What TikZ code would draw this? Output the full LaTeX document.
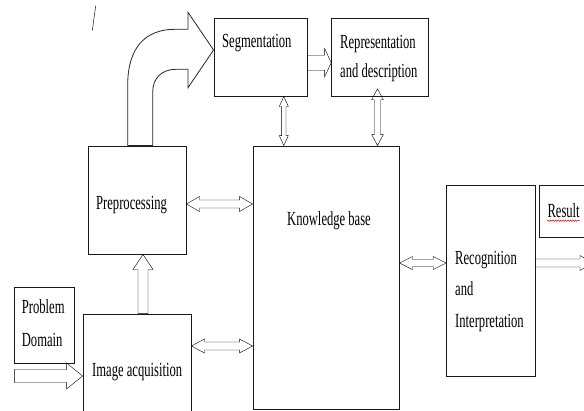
\documentclass[tikz,border=0pt]{standalone}
\usepackage{fontspec}
\setmainfont{Liberation Serif}[FakeStretch=0.63]
\usepackage{tikz}
\usetikzlibrary{calc, decorations.pathmorphing}
\tikzset{
  box/.style={draw=black!90, line width=0.9pt, inner sep=0pt},
  txt/.style={inner sep=0pt, anchor=base west, align=left, font=\fontsize{20}{#1}\selectfont},
  txt/.default=24,
  arr/.style={draw=black!85, line width=0.8pt},
  % hollow arrow: shaft half width, head half width, head length
  sglarr/.style n args={3}{arr, to path={let \p1=($(\tikztotarget)!#3!(\tikztostart)$) in
      ($(\tikztostart)!#1!90:(\tikztotarget)$) -- ($(\p1)!#1!90:(\tikztotarget)$) -- ($(\p1)!#2!90:(\tikztotarget)$)
      -- (\tikztotarget) -- ($(\p1)!#2!-90:(\tikztotarget)$) -- ($(\p1)!#1!-90:(\tikztotarget)$)
      -- ($(\tikztostart)!#1!-90:(\tikztotarget)$) -- cycle}},
  dblarr/.style n args={3}{arr, to path={let \p1=($(\tikztotarget)!#3!(\tikztostart)$),
      \p2=($(\tikztostart)!#3!(\tikztotarget)$) in
      (\tikztostart) -- ($(\p2)!#2!90:(\tikztotarget)$) -- ($(\p2)!#1!90:(\tikztotarget)$)
      -- ($(\p1)!#1!90:(\tikztotarget)$) -- ($(\p1)!#2!90:(\tikztotarget)$) -- (\tikztotarget)
      -- ($(\p1)!#2!-90:(\tikztotarget)$) -- ($(\p1)!#1!-90:(\tikztotarget)$)
      -- ($(\p2)!#1!-90:(\tikztotarget)$) -- ($(\p2)!#2!-90:(\tikztotarget)$) -- cycle}}
}

\begin{document}
\begin{tikzpicture}[x=1pt, y=-1pt]
        \useasboundingbox (0,0) rectangle (584,410);

        % Boxes
        \node[box, minimum width=93, minimum height=78] (seg) at (260.5,57) {};
        \node[box, minimum width=97, minimum height=78] (rep) at (380.2,57) {};
        \node[box, minimum width=146, minimum height=263] (kb) at (326,277.5) {};
        \node[box, minimum width=98, minimum height=108] (pre) at (137,200) {};
        \node[box, minimum width=108, minimum height=98] (img) at (137,363) {};
        \node[box, minimum width=59.7, minimum height=76] (prob) at (44.15,325.3) {};
        \node[box, minimum width=88.6, minimum height=191] (rec) at (491,280.5) {};
        \node[box, minimum width=60.7, minimum height=52.7] (res) at (569.65,211.35) {};

        % Labels
        \node[txt] (segtxt) at (222,47.7) {Segmentation};
        \node[txt=29] (reptxt) at (340,77) {Representation\\and description};
        \node[txt] (kbtxt) at (287,225) {Knowledge base};
        \node[txt] (pretxt) at (96,209) {Preprocessing};
        \node[txt] (imgtxt) at (92,376) {Image acquisition};
        \node[txt=33.4] (probtxt) at (21.7,346.7) {Problem\\Domain};
        \node[txt=31.5] (rectxt) at (455,327.3) {Recognition\\and\\Interpretation};
        \node[txt] (restxt) at (547.3,217.7) {Result};
        \draw[red, line width=0.5pt, decorate, decoration={snake, amplitude=0.7pt, segment length=2.5pt}]
            ([yshift=-3pt]restxt.base west) -- ([yshift=-3pt]restxt.base east);

        % Free ends
        \coordinate (pin) at (14.3,376);
        \coordinate (pout) at (593,263);

        % Block arrows
        \draw ($(pre.east)+(0,4)$) to[dblarr={4pt}{7.5pt}{13pt}] ($(pre.east -| kb.west)+(0,4)$);
        \draw ($(img.east)+(0,-17)$) to[dblarr={4pt}{7pt}{13pt}] ($(img.east -| kb.west)+(0,-17)$);
        \draw ($(kb.east)+(0,-14.5)$) to[dblarr={3.5pt}{6.5pt}{13pt}] ($(rec.west)+(0,-17.5)$);
        \draw ($(seg.south)+(23.3,0)$) to[dblarr={2.2pt}{4.5pt}{10pt}] ($(kb.north -| seg.south)+(23.3,0)$);
        \draw ($(rep.south)+(-2.7,-7.7)$) to[dblarr={3pt}{5.8pt}{11pt}] ($(kb.north -| rep.south)+(-2.7,0)$);
        \draw ($(seg.east)+(0,5.7)$) to[sglarr={7.5pt}{14.3pt}{6.7pt}] ($(seg.east -| rep.west)+(0,5.7)$);
        \draw ($(img.north)+(6,0)$) to[sglarr={5pt}{10pt}{15pt}] ($(pre.south -| img.north)+(6,0)$);
        \draw (pin) to[sglarr={6.5pt}{13pt}{16pt}] ($(img.west)+(0,13)$);
        \draw ($(rec.east)+(0,-17.5)$) to[sglarr={4pt}{7.5pt}{13pt}] (pout);

        % Bent arrow into segmentation
        \draw[arr] ($(pre.north)+(-9.3,0)$) -- (127.7,85) .. controls (127.7,48) and (145,29.3) .. (175,29.3)
            -- (188,29.3) -- (188,12.3) -- ($(seg.west)+(0,-7)$) -- (188,87.7) -- (188,69.3) -- (176,69.3)
            .. controls (162,69.3) and (152.7,78) .. (152.7,92) -- ($(pre.north)+(15.7,0)$) -- cycle;

        % Stray mark
        \draw[black!80, line width=0.6pt] (95.7,5.7) -- (92.3,30.7);
    \end{tikzpicture}
\end{document}
